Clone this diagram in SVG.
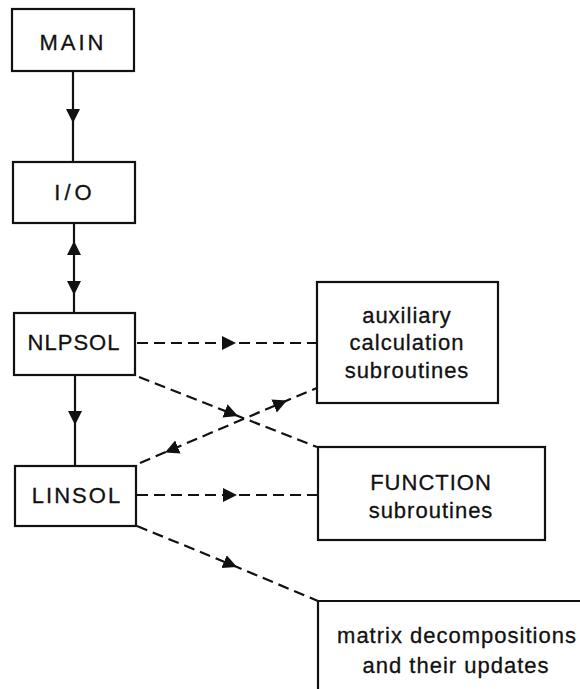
<svg xmlns="http://www.w3.org/2000/svg" width="580" height="689" viewBox="0 0 580 689">
<style>
.box{fill:none;stroke:#111;stroke-width:2.2}
.t{font-family:"Liberation Sans",Arial,sans-serif;font-size:22px;fill:#111;text-anchor:middle;letter-spacing:1px;stroke:#111;stroke-width:0.3}
.s{fill:none;stroke:#111;stroke-width:2.2}
.d{fill:none;stroke:#111;stroke-width:2.2;stroke-dasharray:11 6}
.n{fill:none;stroke:none}
.a{marker-mid:url(#ah)}
</style>
<defs>
<marker id="ah" markerUnits="userSpaceOnUse" markerWidth="15" markerHeight="15" refX="14" refY="7" orient="auto" viewBox="0 0 15 15">
<path d="M0,0 L14,7 L0,14 Z" fill="#111"/>
</marker>
</defs>
<rect width="580" height="689" fill="#fff"/>
<g id="connectors">
<path class="s a" d="M73,71 L73,123 L73,162"/>
<path class="s a" d="M74,313 L74,241 L74,223"/>
<path class="n a" d="M74,223 L74,295 L74,313"/>
<path class="s a" d="M75,375 L75,425 L75,466"/>
<path class="d a" d="M137,343 L236,343 L316,343"/>
<path class="d a" d="M139,377 L238,416 L317,447"/>
<path class="d a" d="M140,463 L287,400.5 L317,388"/>
<path class="n a" d="M317,388 L165,452.5 L140,463"/>
<path class="d a" d="M137,495 L237,495 L317,495"/>
<path class="d a" d="M137,526 L237,567 L318,601"/>
</g>
<g id="main"><rect class="box" x="12" y="9" width="122" height="62"/><text class="t" x="73" y="50" style="letter-spacing:3px">MAIN</text></g>
<g id="io"><rect class="box" x="13" y="162" width="122" height="61"/><text class="t" x="75" y="200" style="letter-spacing:4px">I/O</text></g>
<g id="nlpsol"><rect class="box" x="14" y="313" width="121" height="62"/><text class="t" x="74" y="350">NLPSOL</text></g>
<g id="linsol"><rect class="box" x="15" y="466" width="121" height="60"/><text class="t" x="77" y="503" style="letter-spacing:2px">LINSOL</text></g>
<g id="auxiliary"><rect class="box" x="317" y="282" width="181" height="121"/>
<text class="t" x="407" y="323">auxiliary</text>
<text class="t" x="407" y="350">calculation</text>
<text class="t" x="407" y="378">subroutines</text></g>
<g id="function"><rect class="box" x="318" y="447" width="227" height="93"/>
<text class="t" x="431" y="490">FUNCTION</text>
<text class="t" x="431" y="518">subroutines</text></g>
<g id="matrix"><path class="box" d="M580,601 L318,601 L318,689"/>
<text class="t" x="457" y="643">matrix decompositions</text>
<text class="t" x="456" y="673">and their updates</text></g>
</svg>
